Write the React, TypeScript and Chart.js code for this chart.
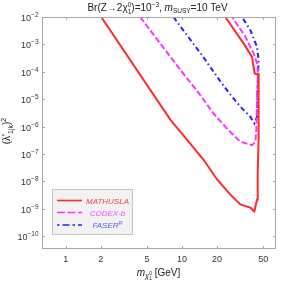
import { useEffect, useRef } from 'react';
import { Chart, registerables } from 'chart.js';

Chart.register(...registerables);

// ---- data ----
const mathuslaMass = [2.02, 7.94, 11.0, 15.3, 20.0, 26.1, 31.8, 38.8, 42.0, 44.3, 44.9, 45.7, 45.7, 44.3, 42.3, 40.1, 34.0, 23.6];
const mathuslaCoupling = [1e-2, 1.8e-6, 3.4e-7, 6.3e-8, 1.2e-8, 3.3e-9, 1.45e-9, 1.1e-9, 8.1e-10, 2.2e-9, 2.1e-8, 3.4e-7, 7.9e-5, 7.9e-5, 8.7e-5, 3.5e-4, 1.07e-3, 1e-2];

const codexMass = [4.37, 9.67, 14.4, 18.7, 24.4, 31.8, 40.1, 42.9, 43.7, 44.3, 45.2, 44.3, 41.4, 35.2, 27.0];
const codexCoupling = [1e-2, 1.2e-4, 1.4e-5, 3.0e-6, 8.5e-7, 2.8e-7, 2.1e-7, 2.8e-7, 7.8e-7, 9.8e-6, 8.7e-5, 2.0e-4, 4.7e-4, 1.9e-3, 1e-2];

const faserMass = [8.47, 9.67, 14.4, 22.1, 27.0, 32.9, 38.8, 42.0, 44.3, 44.7, 45.7, 44.3, 38.8, 32.9];
const faserCoupling = [1e-2, 4.6e-3, 4.9e-4, 3.7e-5, 1.23e-5, 4.6e-6, 2.3e-6, 1.3e-6, 2.3e-6, 2.2e-5, 2.6e-4, 8.1e-4, 3.3e-3, 1e-2];

const seriesNames = ['MATHUSLA', 'CODEX-b', 'FASER'];
const xTickValues = [1, 2, 5, 10, 20, 50];
const yTickExponents = [-10, -9, -8, -7, -6, -5, -4, -3, -2];

const RED = '#ff2a2a';
const MAGENTA = '#ff33ff';
const BLUE = '#2222ff';
const FAMILY = '"Liberation Sans", Arial, sans-serif';

type Seg = { t: string; s: number; dy?: number; it?: boolean; stack?: boolean };

function fnt(s: number, it?: boolean) {
  return `${it ? 'italic ' : ''}${s}px ${FAMILY}`;
}
function segWidth(ctx: CanvasRenderingContext2D, segs: Seg[]) {
  let w = 0, p = 0;
  for (const g of segs) {
    ctx.font = fnt(g.s, g.it);
    const m = ctx.measureText(g.t).width;
    if (g.stack) p = Math.max(p, m);
    else { w += Math.max(m, p); p = 0; }
  }
  return w + p;
}
function drawSegs(ctx: CanvasRenderingContext2D, segs: Seg[], x: number, y: number) {
  let cx = x, p = 0;
  ctx.textAlign = 'left';
  ctx.textBaseline = 'alphabetic';
  for (const g of segs) {
    ctx.font = fnt(g.s, g.it);
    const m = ctx.measureText(g.t).width;
    ctx.fillText(g.t, cx, y + (g.dy || 0));
    if (g.stack) p = Math.max(p, m);
    else { cx += Math.max(m, p); p = 0; }
  }
}
function drawCentered(ctx: CanvasRenderingContext2D, segs: Seg[], cx: number, y: number) {
  drawSegs(ctx, segs, cx - segWidth(ctx, segs) / 2, y);
}

const decorPlugin = {
  id: 'decor',
  afterDraw(chart: any) {
    const ctx: CanvasRenderingContext2D = chart.ctx;
    const { left, right, top, bottom } = chart.chartArea;
    const xs = chart.scales.x;
    const ys = chart.scales.y;
    ctx.save();
    // frame
    ctx.strokeStyle = '#a8a8a8';
    ctx.lineWidth = 1;
    ctx.strokeRect(left + 0.5, top + 0.5, right - left - 1, bottom - top - 1);
    // tick marks
    ctx.beginPath();
    for (const v of xTickValues) {
      const px = Math.round(xs.getPixelForValue(v)) + 0.5;
      ctx.moveTo(px, bottom); ctx.lineTo(px, bottom - 3);
      ctx.moveTo(px, top); ctx.lineTo(px, top + 3);
    }
    for (const e of yTickExponents) {
      const py = Math.round(ys.getPixelForValue(Math.pow(10, e))) + 0.5;
      ctx.moveTo(left, py); ctx.lineTo(left + 3, py);
      ctx.moveTo(right, py); ctx.lineTo(right - 3, py);
    }
    ctx.stroke();

    // y tick labels
    ctx.fillStyle = '#333';
    for (const e of yTickExponents) {
      const py = ys.getPixelForValue(Math.pow(10, e));
      const segs: Seg[] = [{ t: '10', s: 9 }, { t: '\u2212' + String(-e), s: 6.5, dy: -4 }];
      const w = segWidth(ctx, segs);
      drawSegs(ctx, segs, left - 3.5 - w, py + 4);
    }

    // title
    ctx.fillStyle = '#222';
    drawCentered(ctx, [
      { t: 'Br(Z\u21922', s: 10 },
      { t: '\u03c7', s: 10 },
      { t: '1', s: 6.5, dy: 2.5, stack: true },
      { t: '0', s: 6.5, dy: -4.5 },
      { t: ')=10', s: 10 },
      { t: '\u22123', s: 6.5, dy: -4.5 },
      { t: ', ', s: 10 },
      { t: 'm', s: 10, it: true },
      { t: 'SUSY', s: 6.5, dy: 1.5 },
      { t: '=10 TeV', s: 10 },
    ], 157.5, 11);

    // x axis title
    drawCentered(ctx, [
      { t: 'm', s: 10, it: true },
      { t: '\u03c7', s: 7.5, dy: 2.5, it: true },
      { t: '1', s: 5, dy: 4.5, stack: true },
      { t: '0', s: 5, dy: -1 },
      { t: ' [GeV]', s: 10 },
    ], 158.5, 275.5);

    // y axis title
    ctx.save();
    ctx.translate(10, 131);
    ctx.rotate(-Math.PI / 2);
    drawCentered(ctx, [
      { t: "(\u03bb'", s: 10 },
      { t: '1jk', s: 7, dy: 2.5 },
      { t: ')', s: 10 },
      { t: '2', s: 7, dy: -4.5 },
    ], 0, 0);
    ctx.restore();

    // legend
    const bx = 52, by = 189, bw = 81, bh = 46;
    ctx.fillStyle = '#f2f2f2';
    ctx.fillRect(bx, by, bw, bh);
    ctx.strokeStyle = '#c4c4c4';
    ctx.strokeRect(bx + 0.5, by + 0.5, bw - 1, bh - 1);
    const rows = [200.5, 212.5, 225];
    const styles = [
      { c: RED, d: [] as number[], tc: '#ff3c3c' },
      { c: MAGENTA, d: [8, 2.5], tc: '#ff44ff' },
      { c: BLUE, d: [2.5, 3, 7, 3], tc: '#5a5aff' },
    ];
    styles.forEach((st, i) => {
      ctx.strokeStyle = st.c;
      ctx.lineWidth = 1.6;
      ctx.setLineDash(st.d);
      ctx.beginPath();
      ctx.moveTo(57, rows[i]);
      ctx.lineTo(82, rows[i]);
      ctx.stroke();
      ctx.setLineDash([]);
      ctx.fillStyle = st.tc;
      const segs: Seg[] = i === 2
        ? [{ t: seriesNames[i], s: 8, it: true }, { t: 'R', s: 5.5, dy: -3.5, it: true }]
        : [{ t: seriesNames[i], s: 8, it: true }];
      drawCentered(ctx, segs, 107.5, rows[i] + 3);
    });
    ctx.restore();
  },
};

function toPoints(xs: number[], ys: number[]) {
  return xs.map((x, i) => ({ x, y: ys[i] }));
}

export default function App() {
  const ref = useRef<HTMLCanvasElement | null>(null);
  useEffect(() => {
    if (!ref.current) return;
    const chart = new Chart(ref.current, {
      type: 'scatter',
      data: {
        datasets: [
          { label: seriesNames[0], data: toPoints(mathuslaMass, mathuslaCoupling), showLine: true, borderColor: RED, borderWidth: 2, pointRadius: 0, tension: 0, fill: false },
          { label: seriesNames[1], data: toPoints(codexMass, codexCoupling), showLine: true, borderColor: MAGENTA, borderWidth: 2, borderDash: [6, 2.5], pointRadius: 0, tension: 0, fill: false },
          { label: seriesNames[2], data: toPoints(faserMass, faserCoupling), showLine: true, borderColor: BLUE, borderWidth: 2, borderDash: [5, 3, 1.5, 3], pointRadius: 0, tension: 0, fill: false },
        ],
      },
      options: {
        animation: false,
        responsive: false,
        devicePixelRatio: 1,
        layout: { padding: { top: 17, right: 16, left: 0, bottom: 0 } },
        plugins: { legend: { display: false }, title: { display: false }, tooltip: { enabled: false } },
        scales: {
          x: {
            type: 'logarithmic',
            min: 0.625,
            max: 64.5,
            bounds: 'data',
            grid: { display: false, drawTicks: false },
            border: { display: false },
            afterBuildTicks: (scale: any) => { scale.ticks = xTickValues.map((v) => ({ value: v })); },
            afterFit: (scale: any) => { scale.height = 35; },
            ticks: {
              autoSkip: false,
              maxRotation: 0,
              padding: 5,
              color: '#333',
              font: { family: FAMILY, size: 9 },
              callback: (v: any) => String(v),
            },
          },
          y: {
            type: 'logarithmic',
            min: 3.41e-11,
            max: 1e-2,
            bounds: 'data',
            grid: { display: false, drawTicks: false },
            border: { display: false },
            afterBuildTicks: (scale: any) => { scale.ticks = yTickExponents.map((e) => ({ value: Math.pow(10, e) })); },
            afterFit: (scale: any) => { scale.width = 42; },
            ticks: { display: false },
          },
        },
      },
      plugins: [decorPlugin],
    } as any);
    return () => chart.destroy();
  }, []);
  return (
    <div style={{ position: 'fixed', left: 0, top: 0, width: 292, height: 284, background: '#fff' }}>
      <canvas ref={ref} width={292} height={284} style={{ display: 'block', width: 292, height: 284 }} />
    </div>
  );
}
